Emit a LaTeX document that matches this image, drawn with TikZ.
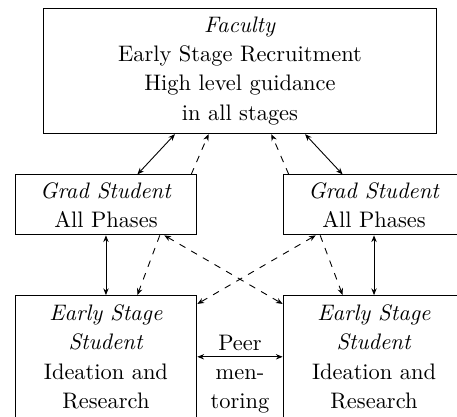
\documentclass[tikz,border=0pt]{standalone}
\usepackage{tikz}
\usetikzlibrary{arrows.meta}

\begin{document}
\begin{tikzpicture}[
        box/.style   = {draw, rectangle, align=center, inner sep=2pt, font=\fontsize{10}{13}\selectfont},
        txt/.style   = {align=center, inner sep=0pt, font=\fontsize{10}{13}\selectfont},
        both/.style  = {{Stealth[length=3pt,width=2.4pt]}-{Stealth[length=3pt,width=2.4pt]}},
        one/.style   = {-{Stealth[length=3pt,width=2.4pt]}, dashed},
        dboth/.style = {both, dashed},
    ]
        % ---- marco: 457 x 416 ----
        \useasboundingbox (0,0) rectangle (7.16,-6.52);

        % ---- nodos ----
        \node (fac)    [box, minimum width=6.17cm, minimum height=1.97cm] at (3.76,-1.11)
            {\textit{Faculty}\\Early Stage Recruitment\\High level guidance\\in all stages};
        \node (gradL)  [box, minimum width=2.85cm, minimum height=0.94cm] at (1.66,-3.21)
            {\textit{Grad Student}\\All Phases};
        \node (gradR)  [box, minimum width=2.85cm, minimum height=0.94cm] at (5.86,-3.21)
            {\textit{Grad Student}\\All Phases};
        \node (earlyL) [box, minimum width=2.85cm, minimum height=1.92cm] at (1.66,-5.59)
            {\textit{Early Stage}\\\textit{Student}\\Ideation and\\Research};
        \node (earlyR) [box, minimum width=2.85cm, minimum height=1.92cm] at (5.86,-5.59)
            {\textit{Early Stage}\\\textit{Student}\\Ideation and\\Research};
        \node (peer)   [txt] at (3.76,-5.86) {Peer\\men-\\toring};

        % ---- faculty <-> grad ----
        \draw[both] ([xshift=-29pt]fac.south) -- ([xshift=14pt]gradL.north);
        \draw[one]  ([xshift=38pt]gradL.north) -- ([xshift=-14pt]fac.south);
        \draw[one]  ([xshift=-38pt]gradR.north) -- ([xshift=14pt]fac.south);
        \draw[both] ([xshift=29pt]fac.south) -- ([xshift=-14pt]gradR.north);

        % ---- grad <-> early stage ----
        \draw[both] (gradL.south) -- (earlyL.north);
        \draw[both] (gradR.south) -- (earlyR.north);
        \draw[one]  ([xshift=24pt]gradL.south) -- ([xshift=14pt]earlyL.north);
        \draw[one]  ([xshift=-24pt]gradR.south) -- ([xshift=-14pt]earlyR.north);

        % ---- cruzadas ----
        \draw[dboth] ([xshift=26pt]gradL.south) -- (earlyR);
        \draw[dboth] ([xshift=-26pt]gradR.south) -- (earlyL);

        % ---- peer mentoring ----
        \draw[both] (earlyL.east) -- (earlyR.west);
    \end{tikzpicture}
\end{document}
